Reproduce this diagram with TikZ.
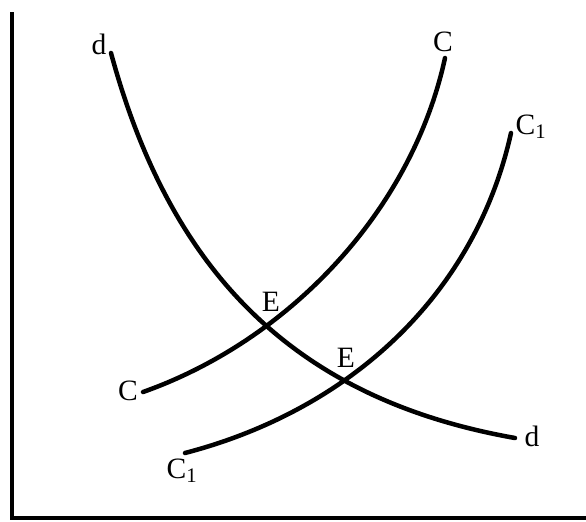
\documentclass[tikz,border=0pt]{standalone}
\usepackage{fontspec}
\setmainfont{Liberation Serif}
\usepackage{tikz}

\begin{document}
\begin{tikzpicture}[x=0.025cm,y=-0.025cm,
    curve/.style={line width=3.2pt,line cap=round},
    lbl/.style={font=\fontsize{21}{23}\selectfont,inner sep=0pt}]
        \useasboundingbox (0,0) rectangle (586,521);
        % axes
        \coordinate (top) at (12,12);
        \coordinate (origin) at (12,518);
        \coordinate (right) at (586,518);
        \draw[line width=3pt] (top) -- (origin) -- (right);
        % demand curve d
        \coordinate (d1) at (111,53);
        \coordinate (d2) at (515,438);
        \draw[curve] (d1) .. controls (172,278) and (300,400) .. (d2);
        \node[lbl] (dtop) at (99,44) {d};
        \node[lbl] (dbot) at (532,436) {d};
        % curve C
        \coordinate (c1) at (143,392);
        \coordinate (c2) at (445,58);
        \draw[curve] (c1) .. controls (290,340) and (412,210) .. (c2);
        \node[lbl] (ctop) at (443,42) {C};
        \node[lbl] (cbot) at (128,391) {C};
        % curve C1
        \coordinate (k1) at (185,453);
        \coordinate (k2) at (511,133);
        \draw[curve] (k1) .. controls (350,410) and (475,295) .. (k2);
        \node[lbl] (ktop) at (531,127) {C\textsubscript{1}};
        \node[lbl] (kbot) at (182,471) {C\textsubscript{1}};
        % equilibria
        \node[lbl] (e1) at (271,302) {E};
        \node[lbl] (e2) at (346,358) {E};
    \end{tikzpicture}
\end{document}
